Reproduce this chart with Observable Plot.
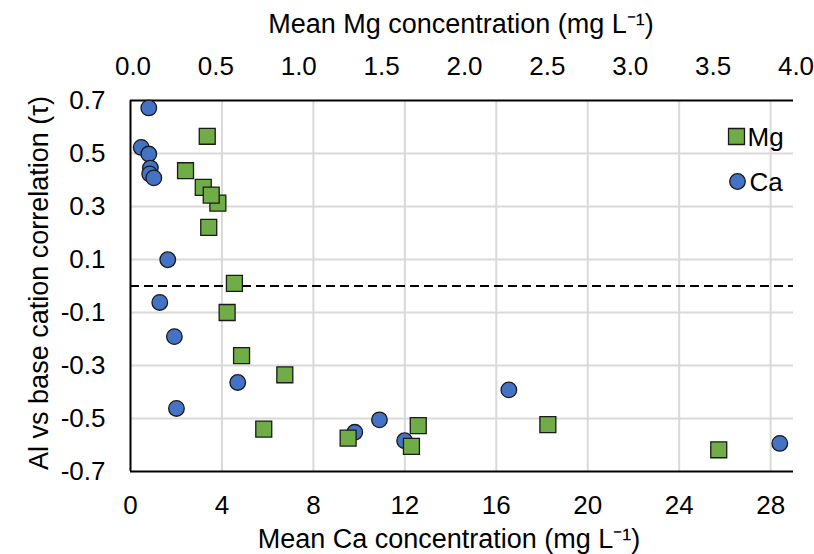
<!DOCTYPE html>
<html>
<head>
<meta charset="utf-8">
<script src="https://cdn.jsdelivr.net/npm/d3@7"></script>
<script src="https://cdn.jsdelivr.net/npm/@observablehq/plot@0.6"></script>
<style>
  body { margin: 0; background: #fff; }
</style>
</head>
<body>
<div id="chart"></div>
<script>
// Mean Ca concentration (mg/L) and Al correlation (tau) per site
const caConc = [0.80, 0.47, 0.80, 0.87, 0.84, 1.02, 1.63, 1.28, 1.92, 4.69, 2.01, 10.89, 9.81, 11.99, 16.55, 28.4];
const caTau  = [0.672, 0.523, 0.498, 0.445, 0.423, 0.408, 0.099, -0.062, -0.191, -0.364, -0.462, -0.505, -0.552, -0.584, -0.392, -0.594];

// Mean Mg concentration (mg/L) and Al correlation (tau) per site
const mgConc = [0.463, 0.332, 0.439, 0.527, 0.487, 0.472, 0.627, 0.583, 0.670, 0.931, 0.804, 1.313, 1.736, 1.695, 2.518, 3.549];
const mgTau  = [0.565, 0.435, 0.372, 0.313, 0.343, 0.221, 0.010, -0.100, -0.263, -0.335, -0.540, -0.574, -0.527, -0.605, -0.523, -0.618];

const caTicks  = [0, 4, 8, 12, 16, 20, 24, 28];
const mgTicks  = [0, 0.5, 1.0, 1.5, 2.0, 2.5, 3.0, 3.5, 4.0];
const tauTicks = [-0.7, -0.5, -0.3, -0.1, 0.1, 0.3, 0.5, 0.7];

const caMax = 29;
const mgMax = 4;
const k = caMax / mgMax; // maps Mg values onto the shared horizontal scale

const ca = caConc.map((c, i) => ({conc: c, tau: caTau[i]}));
const mg = mgConc.map((c, i) => ({conc: c, tau: mgTau[i]}));

const blue = "#4472C4";
const green = "#70AD47";
const outline = "#1a1a1a";
const grid = "#d9d9d9";

const chart = Plot.plot({
  width: 814,
  height: 554,
  marginLeft: 130,
  marginRight: 21,
  marginTop: 100,
  marginBottom: 83,
  style: {fontFamily: "'Liberation Sans', Arial, sans-serif", fontSize: "26px", color: "#000", background: "#fff"},
  x: {domain: [0, caMax]},
  y: {domain: [-0.7, 0.7]},
  marks: [
    Plot.gridX(caTicks.filter(t => t > 0), {stroke: grid, strokeOpacity: 1, strokeWidth: 2}),
    Plot.gridY(tauTicks.filter(t => Math.abs(t) < 0.69), {stroke: grid, strokeOpacity: 1, strokeWidth: 2}),
    Plot.ruleY([0], {stroke: "#000", strokeWidth: 2, strokeDasharray: "9,5"}),
    Plot.axisX(caTicks, {anchor: "bottom", tickSize: 0, tickPadding: 24, tickFormat: d => String(d), label: null}),
    Plot.axisX(mgTicks.map(m => m * k), {anchor: "top", tickSize: 0, tickPadding: 26, dx: 2.5, tickFormat: d => (d / k).toFixed(1), label: null}),
    Plot.axisY(tauTicks, {anchor: "left", tickSize: 0, tickPadding: 25, tickFormat: d => d.toFixed(1), label: null}),
    Plot.ruleX([0], {stroke: "#000", strokeWidth: 2}),
    Plot.ruleY([-0.7, 0.7], {stroke: "#000", strokeWidth: 2}),
    Plot.dot(ca, {x: "conc", y: "tau", r: 7.8, fill: blue, stroke: outline, strokeWidth: 1.3}),
    Plot.dot(mg, {x: d => d.conc * k, y: "tau", symbol: "square", r: 9, fill: green, stroke: outline, strokeWidth: 1.3}),
    // legend
    Plot.dot(["Mg"], {frameAnchor: "top-right", dx: -57, dy: 36, symbol: "square", r: 9, fill: green, stroke: outline, strokeWidth: 1.3}),
    Plot.text(["Mg"], {frameAnchor: "top-right", dx: -46, dy: 37, text: d => d, textAnchor: "start", lineAnchor: "middle", fontSize: 26}),
    Plot.dot(["Ca"], {frameAnchor: "top-right", dx: -56, dy: 81, r: 7.8, fill: blue, stroke: outline, strokeWidth: 1.3}),
    Plot.text(["Ca"], {frameAnchor: "top-right", dx: -44, dy: 82, text: d => d, textAnchor: "start", lineAnchor: "middle", fontSize: 26}),
    // axis titles
    Plot.text(["Mean Ca concentration (mg L\u207B\u00B9)"], {frameAnchor: "bottom", dx: -13, dy: 68, text: d => d, textAnchor: "middle", lineAnchor: "middle", fontSize: 27}),
    Plot.text(["Mean Mg concentration (mg L\u207B\u00B9)"], {frameAnchor: "top", dx: -1, dy: -76, text: d => d, textAnchor: "middle", lineAnchor: "middle", fontSize: 27}),
    Plot.text(["Al vs base cation correlation (\u03C4)"], {frameAnchor: "left", dx: -91, dy: -3, rotate: -90, text: d => d, textAnchor: "middle", lineAnchor: "middle", fontSize: 27})
  ]
});

document.getElementById("chart").appendChild(chart);
</script>
</body>
</html>
